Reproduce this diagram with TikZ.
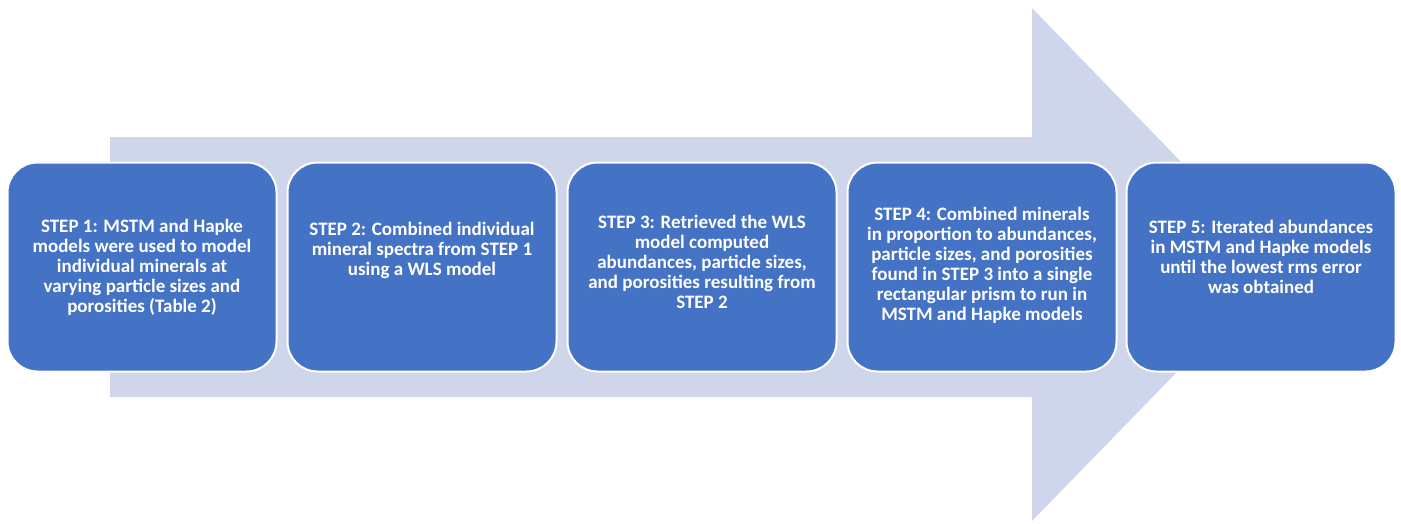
\documentclass[tikz,border=0pt]{standalone}
\usepackage{fontspec}
\setmainfont{Carlito}
\definecolor{boxblue}{HTML}{4472C4}
\definecolor{arrowgray}{HTML}{CFD5EA}
\begin{document}
\begin{tikzpicture}[x=1pt,y=-1pt,
  stepbox/.style={draw=white,line width=2pt,fill=boxblue,rounded corners=30pt,
    minimum width=269pt,minimum height=209pt,inner sep=0pt},
  steptext/.style={text=white,align=center,font=\fontsize{19}{20}\selectfont\bfseries,
    inner sep=0pt}]
\useasboundingbox (0,0) rectangle (1401,523);
% big arrow
\fill[arrowgray] (110,137) -- (1032,137) -- (1032,8) -- (1281,265) -- (1032,521)
  -- (1032,397) -- (110,397) -- cycle;
% boxes
\node[stepbox] (s1) at (142,267) {};
\node[stepbox] (s2) at (422,267) {};
\node[stepbox] (s3) at (702,267) {};
\node[stepbox] (s4) at (982,267) {};
\node[stepbox] (s5) at (1261,267) {};
% texts
\node[steptext] (t1) at (142,267) {STEP 1: MSTM and Hapke\\models were used to model\\individual minerals at\\varying particle sizes and\\porosities (Table 2)};
\node[steptext] (t2) at (422,250) {STEP 2: Combined individual\\mineral spectra from STEP 1\\using a WLS model};
\node[steptext] (t3) at (702,262) {STEP 3: Retrieved the WLS\\model computed\\abundances, particle sizes,\\and porosities resulting from\\STEP 2};
\node[steptext] (t4) at (982,265) {STEP 4: Combined minerals\\in proportion to abundances,\\particle sizes, and porosities\\found in STEP 3 into a single\\rectangular prism to run in\\MSTM and Hapke models};
\node[steptext] (t5) at (1261,257) {STEP 5: Iterated abundances\\in MSTM and Hapke models\\until the lowest rms error\\was obtained};
\end{tikzpicture}
\end{document}
